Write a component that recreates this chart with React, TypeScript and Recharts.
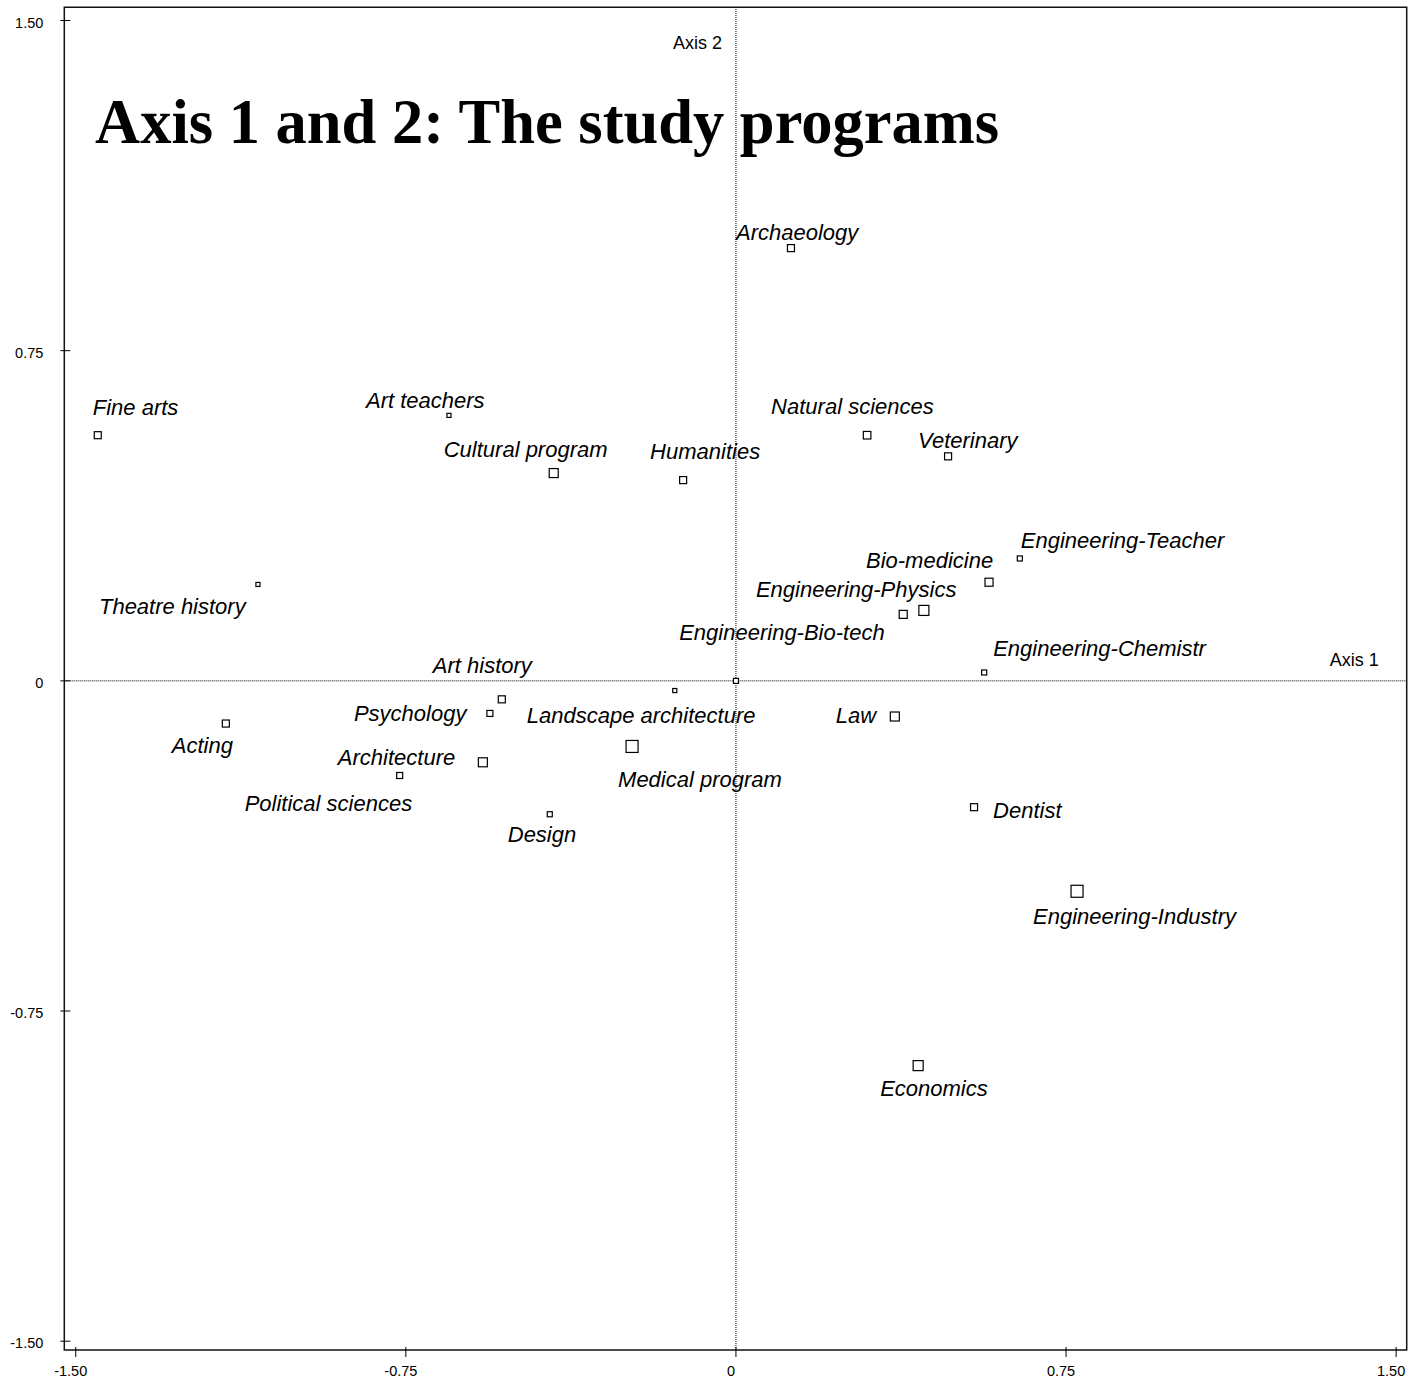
import {
  ScatterChart,
  Scatter,
  XAxis,
  YAxis,
  ZAxis,
  ReferenceLine,
  ReferenceArea,
} from 'recharts'

const PROGRAMS = [
  'Fine arts', 'Art teachers', 'Cultural program', 'Humanities', 'Archaeology',
  'Natural sciences', 'Veterinary', 'Engineering-Teacher', 'Bio-medicine',
  'Engineering-Physics', 'Engineering-Bio-tech', 'Engineering-Chemistr',
  'Theatre history', 'Art history', 'Psychology', 'Landscape architecture',
  'Medical program', 'Architecture', 'Political sciences', 'Acting', 'Design',
  'Law', 'Dentist', 'Engineering-Industry', 'Economics', '',
]

const AXIS1 = [
  -1.45, -0.652, -0.414, -0.12, 0.125,
  0.298, 0.482, 0.645, 0.575,
  0.427, 0.38, 0.564,
  -1.086, -0.532, -0.559, -0.139,
  -0.236, -0.575, -0.764, -1.159, -0.423,
  0.361, 0.541, 0.775, 0.414, 0,
]

const AXIS2 = [
  0.558, 0.603, 0.472, 0.456, 0.983,
  0.558, 0.51, 0.278, 0.224,
  0.16, 0.151, 0.019,
  0.219, -0.042, -0.074, -0.022,
  -0.149, -0.185, -0.215, -0.097, -0.303,
  -0.081, -0.287, -0.478, -0.874, 0,
]

// relative weight of each program (drawn as square size)
const MASS = [
  3.3, 1.1, 5.4, 3.3, 3.3,
  3.8, 3.3, 1.7, 4.3,
  6.7, 4.3, 1.7,
  1.1, 3.3, 2.4, 1.1,
  9.6, 5.4, 2.4, 3.3, 1.7,
  5.4, 3.3, 9.6, 6.7, 1.7,
]

const TICKS = [-1.5, -0.75, 0, 0.75, 1.5]
const TICK_LABELS = ['-1.50', '-0.75', '0', '0.75', '1.50']

// label placement relative to the marker, in pixels
const LABEL_DX = [
  -5, -83, -110, -33, -55,
  -96, -30, 1, -123,
  -168, -224, 9,
  -159, -69, -136, -148,
  -14, -145, -155, -54, -42,
  -59, 19, -44, -38, 0,
]
const LABEL_DY = [
  -28, -15, -24, -29, -16,
  -29, -16, -18, -22,
  -21, 18, -24,
  22, -34, 0, 25,
  33, -5, 28, 22, 20,
  -1, 3, 25, 23, 0,
]

const X_DOMAIN: [number, number] = [-1.526, 1.524]
const Y_DOMAIN: [number, number] = [-1.52, 1.53]

const SANS = '"Liberation Sans", Arial, sans-serif'

const points = PROGRAMS.map((name, i) => ({
  name,
  axis1: AXIS1[i],
  axis2: AXIS2[i],
  mass: MASS[i],
  dx: LABEL_DX[i],
  dy: LABEL_DY[i],
}))

const tickText = (v: number) => TICK_LABELS[TICKS.indexOf(v)] ?? String(v)

function XTick(props: any) {
  const { x, y, payload } = props
  return (
    <g>
      <line x1={x} x2={x} y1={y - 10} y2={y} stroke="#000" strokeWidth={1} />
      <text x={x - 5} y={y + 13.5} textAnchor="middle" dominantBaseline="central"
        fontSize={14.5} fontFamily={SANS} fill="#000">
        {tickText(payload.value)}
      </text>
    </g>
  )
}

function YTick(props: any) {
  const { x, y, payload } = props
  return (
    <g>
      <line x1={x} x2={x + 10} y1={y} y2={y} stroke="#000" strokeWidth={1} />
      <text x={x - 17} y={y + 2} textAnchor="end" dominantBaseline="central"
        fontSize={14.5} fontFamily={SANS} fill="#000">
        {tickText(payload.value)}
      </text>
    </g>
  )
}

function ProgramMark(props: any) {
  const { cx, cy, payload } = props
  const area = props.size ?? payload.mass * 15
  const side = Math.sqrt(area)
  return (
    <g>
      <rect x={cx - side / 2} y={cy - side / 2} width={side} height={side}
        fill="#fff" stroke="#000" strokeWidth={1.2} />
      {payload.name && (
        <text x={cx + payload.dx} y={cy + payload.dy} dominantBaseline="central"
          fontSize={22} fontStyle="italic" fontFamily={SANS} fill="#000">
          {payload.name}
        </text>
      )}
    </g>
  )
}

const Axis1Label = (props: any) => {
  const vb = props.viewBox || {}
  return (
    <text x={vb.x + vb.width - 28} y={vb.y - 21} textAnchor="end" dominantBaseline="central"
      fontSize={18} fontFamily={SANS} fill="#000">Axis 1</text>
  )
}

const Axis2Label = (props: any) => {
  const vb = props.viewBox || {}
  return (
    <text x={vb.x - 14} y={vb.y + 36} textAnchor="end" dominantBaseline="central"
      fontSize={18} fontFamily={SANS} fill="#000">Axis 2</text>
  )
}

export default function App() {
  return (
    <div style={{ position: 'absolute', left: 0, top: 0, width: 1410, height: 1378, background: '#fff' }}>
      <ScatterChart width={1410} height={1378} margin={{ top: 7.3, right: 3.3, left: 0, bottom: 0 }}>
        <XAxis type="number" dataKey="axis1" domain={X_DOMAIN} ticks={TICKS} allowDataOverflow
          height={28} axisLine={false} tickLine={false} tickSize={7} tickMargin={0}
          tick={<XTick />} interval={0} />
        <YAxis type="number" dataKey="axis2" domain={Y_DOMAIN} ticks={TICKS} allowDataOverflow
          width={64.3} axisLine={false} tickLine={false} tickSize={4} tickMargin={0}
          tick={<YTick />} interval={0} />
        <ZAxis type="number" dataKey="mass" domain={[0, 10]} range={[0, 150]} />
        <ReferenceArea x1={X_DOMAIN[0]} x2={X_DOMAIN[1]} y1={Y_DOMAIN[0]} y2={Y_DOMAIN[1]}
          fill="none" fillOpacity={0} stroke="#111" strokeWidth={1.5} />
        <ReferenceLine y={0} stroke="#000" strokeDasharray="1 1" label={<Axis1Label />} />
        <ReferenceLine x={0} stroke="#000" strokeDasharray="1 1" label={<Axis2Label />} />
        <Scatter data={points} isAnimationActive={false} shape={(p: any) => <ProgramMark {...p} />} />
      </ScatterChart>
      <svg width={1410} height={200} style={{ position: 'absolute', left: 0, top: 0, pointerEvents: 'none' }}>
        <text x={95} y={143} fontSize={62.5} fontWeight="bold" fontFamily='"Liberation Serif", "Times New Roman", serif' fill="#000">
          Axis 1 and 2: The study programs
        </text>
      </svg>
    </div>
  )
}
